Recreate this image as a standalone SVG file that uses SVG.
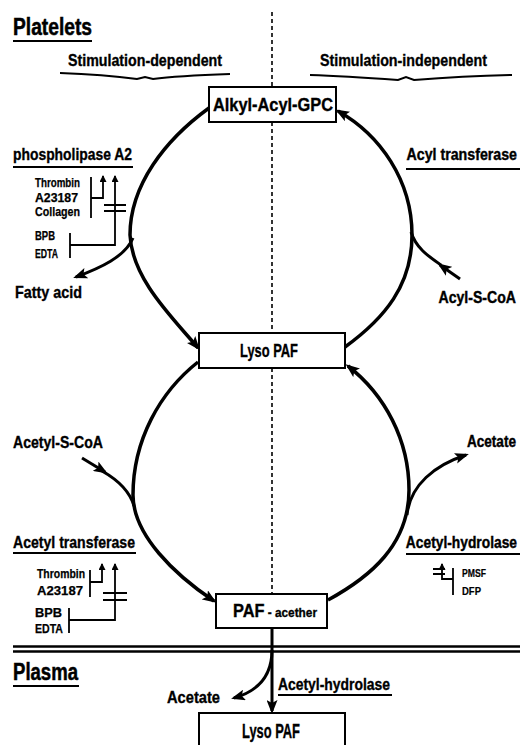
<svg xmlns="http://www.w3.org/2000/svg" width="520" height="745" viewBox="0 0 520 745">
<style>
text{font-family:"Liberation Sans",Arial,sans-serif;font-weight:bold;fill:#000;stroke:#000;stroke-width:0.35}
.h{font-size:23px;stroke-width:0.5}
.m{font-size:16.5px}
.b{font-size:18px}
.s{font-size:12px;stroke-width:0.25}
.xs{font-size:10.5px;stroke-width:0.2}
.r{text-anchor:end}
.box{fill:#fff;stroke:#000;stroke-width:2}
.loop{fill:none;stroke:#000;stroke-width:3.5}
.br{fill:none;stroke:#000;stroke-width:3}
.ul{stroke:#000;stroke-width:2;fill:none}
.inh{fill:none;stroke:#000;stroke-width:1.8}
.dash{stroke:#000;stroke-width:1.6;stroke-dasharray:4 3;fill:none}
</style>
<defs>
<marker id="ah" viewBox="0 0 14 11" refX="11" refY="5.5" markerWidth="14" markerHeight="11" markerUnits="userSpaceOnUse" orient="auto">
<path d="M0,0 L14,5.5 L0,11 L3,5.5 z" fill="#000"/>
</marker>
<marker id="sa" viewBox="0 0 7 7" refX="6" refY="3.5" markerWidth="7" markerHeight="7" markerUnits="userSpaceOnUse" orient="auto">
<path d="M0,0 L7,3.5 L0,7 z" fill="#000"/>
</marker>
</defs>

<g id="headers">
<text class="h" x="13" y="35" textLength="79" lengthAdjust="spacingAndGlyphs">Platelets</text>
<line class="ul" x1="13" y1="41" x2="92" y2="41" stroke-width="2.5"/>
<text class="m" x="68" y="66" textLength="154" lengthAdjust="spacingAndGlyphs">Stimulation-dependent</text>
<path class="ul" d="M60,73 C90,74 115,76 137,79 L145,77 L153,79 C175,76 200,75 230,74"/>
<text class="m" x="320" y="66" textLength="167" lengthAdjust="spacingAndGlyphs">Stimulation-independent</text>
<path class="ul" d="M310,75 C340,76 370,78 398,80 L406,77 L414,80 C440,78 470,76 512,75"/>
<text class="h" x="13" y="680" textLength="65" lengthAdjust="spacingAndGlyphs">Plasma</text>
<line class="ul" x1="13" y1="686" x2="79" y2="686" stroke-width="2.5"/>
<line x1="13" y1="646.5" x2="520" y2="646.5" stroke="#000" stroke-width="2.4"/>
<line x1="13" y1="651.5" x2="520" y2="651.5" stroke="#000" stroke-width="2.4"/>
</g>

<g id="divider">
<path class="dash" d="M272,12 V87 M272,122 V333 M272,368 V594"/>
</g>

<g id="connectors">
<path class="loop" d="M209,108 C165,140 130,185 130,235 C132,280 175,320 198,348" marker-end="url(#ah)"/>
<path class="loop" d="M345,347 C385,318 412,285 412,235 C412,180 380,135 338,111" marker-end="url(#ah)"/>
<path class="loop" d="M198,362 C160,392 133,440 133,495 C133,535 175,575 214,601" marker-end="url(#ah)"/>
<path class="loop" d="M328,600 C370,577 409,545 409,490 C409,440 385,395 348,366" marker-end="url(#ah)"/>
<path class="br" d="M133,238 C125,257 100,268 76,277" marker-end="url(#ah)"/>
<path class="br" d="M460,279 L440,265" marker-end="url(#ah)"/>
<path class="br" d="M441,265 C428,256 416,248 411,232"/>
<path class="br" d="M82,458 L105,472" marker-end="url(#ah)"/>
<path class="br" d="M102,471 C118,480 130,492 134,506"/>
<path class="br" d="M407,515 C410,485 435,465 466,455" marker-end="url(#ah)"/>
<path class="br" d="M272,628 V711" marker-end="url(#ah)"/>
<path class="br" d="M272,650 C272,672 262,690 234,698" marker-end="url(#ah)"/>
</g>

<g id="n-alkyl">
<rect class="box" x="209" y="87" width="127" height="35"/>
<text class="b" x="213" y="111" textLength="120" lengthAdjust="spacingAndGlyphs">Alkyl-Acyl-GPC</text>
</g>
<g id="n-lyso1">
<rect class="box" x="199" y="333" width="146" height="35"/>
<text class="b" x="240" y="357" textLength="58" lengthAdjust="spacingAndGlyphs">Lyso PAF</text>
</g>
<g id="n-paf">
<rect class="box" x="216" y="594" width="111" height="34"/>
<text x="233" y="617" style="font-size:18px" textLength="84" lengthAdjust="spacingAndGlyphs">PAF<tspan style="font-size:13px"> - acether</tspan></text>
</g>
<g id="n-lyso2">
<rect class="box" x="199" y="713" width="146" height="40"/>
<text class="b" x="242" y="738" style="font-size:20px" textLength="58" lengthAdjust="spacingAndGlyphs">Lyso PAF</text>
</g>

<g id="pla2">
<text class="m" x="13" y="160" textLength="119" lengthAdjust="spacingAndGlyphs">phospholipase A2</text>
<line class="ul" x1="13" y1="167" x2="133" y2="167"/>
<text class="s" x="35" y="187" textLength="45" lengthAdjust="spacingAndGlyphs">Thrombin</text>
<text class="s" x="35" y="202" textLength="43" lengthAdjust="spacingAndGlyphs">A23187</text>
<text class="s" x="35" y="216" textLength="45" lengthAdjust="spacingAndGlyphs">Collagen</text>
<text class="s" x="35" y="240" textLength="20" lengthAdjust="spacingAndGlyphs">BPB</text>
<text class="s" x="35" y="258" textLength="23" lengthAdjust="spacingAndGlyphs">EDTA</text>
<path class="inh" d="M91,177 V218 M91,198 H103 V176" marker-end="url(#sa)"/>
<path class="inh" d="M70,233 V258 M70,245 H115 V176" marker-end="url(#sa)"/>
<path class="inh" d="M104,205 H126 M104,211 H126"/>
</g>

<g id="acyltrans">
<text class="r" x="517" y="160" style="font-size:14.2px" transform="translate(0,160) scale(1,1.15) translate(0,-160)">Acyl transferase</text>
<line class="ul" x1="406" y1="169" x2="520" y2="169"/>
<text class="r" x="516" y="303" style="font-size:14.1px" transform="translate(0,303) scale(1,1.15) translate(0,-303)">Acyl-S-CoA</text>
<text class="m" x="15" y="298" textLength="67" lengthAdjust="spacingAndGlyphs">Fatty acid</text>
</g>

<g id="acetyltrans">
<text class="m" x="13" y="448" textLength="90" lengthAdjust="spacingAndGlyphs">Acetyl-S-CoA</text>
<text class="m" x="13" y="548" textLength="122" lengthAdjust="spacingAndGlyphs">Acetyl transferase</text>
<line class="ul" x1="13" y1="553" x2="136" y2="553"/>
<text class="s" x="37" y="578" textLength="48" lengthAdjust="spacingAndGlyphs">Thrombin</text>
<text class="s" x="37" y="595" textLength="46" lengthAdjust="spacingAndGlyphs">A23187</text>
<text class="s" x="35" y="617" textLength="27" lengthAdjust="spacingAndGlyphs">BPB</text>
<text class="s" x="35" y="633" textLength="28" lengthAdjust="spacingAndGlyphs">EDTA</text>
<path class="inh" d="M90,570 V597 M90,582 H102 V564" marker-end="url(#sa)"/>
<path class="inh" d="M69,608 V633 M69,620 H115 V564" marker-end="url(#sa)"/>
<path class="inh" d="M103,593 H127 M103,600 H127"/>
</g>

<g id="acetylhydro">
<text class="r" x="516" y="447" style="font-size:13.6px" transform="translate(0,447) scale(1,1.15) translate(0,-447)">Acetate</text>
<text class="r" x="517" y="548" style="font-size:13.8px" transform="translate(0,548) scale(1,1.15) translate(0,-548)">Acetyl-hydrolase</text>
<line class="ul" x1="406" y1="554" x2="520" y2="554"/>
<path class="inh" d="M453,568 V595 M453,579 H442 V564" marker-end="url(#sa)"/>
<path class="inh" d="M433,569 H445 M433,574 H445"/>
<text class="xs" x="462" y="577" textLength="24" lengthAdjust="spacingAndGlyphs">PMSF</text>
<text class="xs" x="462" y="595" textLength="19" lengthAdjust="spacingAndGlyphs">DFP</text>
</g>

<g id="plasma-labels">
<text class="m" x="167" y="703" textLength="53" lengthAdjust="spacingAndGlyphs">Acetate</text>
<text class="m" x="278" y="690" textLength="112" lengthAdjust="spacingAndGlyphs">Acetyl-hydrolase</text>
<line class="ul" x1="278" y1="695" x2="392" y2="695"/>
</g>
</svg>
